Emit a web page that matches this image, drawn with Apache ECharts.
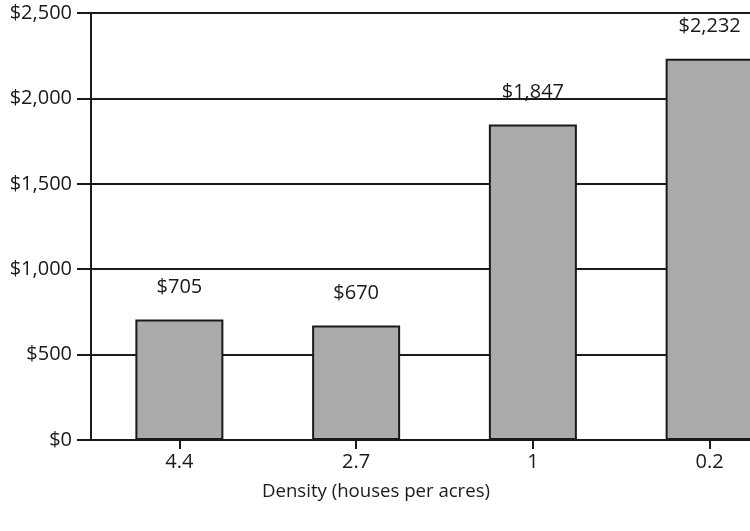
<!DOCTYPE html>
<html>
<head>
<meta charset="utf-8">
<script src="https://cdn.jsdelivr.net/npm/echarts@6/dist/echarts.min.js"></script>
<style>
  html, body { margin: 0; padding: 0; background: #fff; overflow: hidden; }
  /* the plot runs past the right edge of the window, so the canvas is wider than the view */
  #chart { width: 800px; height: 531px; }
</style>
</head>
<body>
<div id="chart"></div>
<script>
// Housing density categories and cost values
const densities = ['4.4', '2.7', '1', '0.2'];
const costs = [705, 670, 1847, 2232];
const yTicks = [0, 500, 1000, 1500, 2000, 2500];
const axisTitle = 'Density (houses per acres)';

const FONT = '"Open Sans", "Noto Sans", sans-serif';
const INK = '#1a1a1a';

const fmtMoney = v => '$' + Number(v).toLocaleString('en-US');

const chart = echarts.init(document.getElementById('chart'), null, { renderer: 'canvas' });

chart.setOption({
  backgroundColor: '#ffffff',
  animation: false,
  graphic: [{
    type: 'text',
    left: 262,
    top: 482,
    style: { text: axisTitle, fontFamily: FONT, fontSize: 18.6, fill: INK }
  }],
  grid: { left: 91, top: 13, height: 427, right: 2, containLabel: false },
  xAxis: {
    type: 'category',
    data: densities,
    axisLine: { show: true, lineStyle: { color: INK, width: 2 } },
    axisTick: { show: true, alignWithLabel: true, length: 9, lineStyle: { color: INK, width: 2 } },
    axisLabel: { margin: 12, fontFamily: FONT, fontSize: 20, color: INK },
    splitLine: { show: false }
  },
  yAxis: {
    type: 'value',
    min: yTicks[0],
    max: yTicks[yTicks.length - 1],
    interval: yTicks[1] - yTicks[0],
    axisLine: { show: true, lineStyle: { color: INK, width: 2 } },
    axisTick: { show: true, length: 14, lineStyle: { color: INK, width: 2 } },
    axisLabel: { margin: 19, fontFamily: FONT, fontSize: 20, color: INK, formatter: fmtMoney },
    splitLine: { show: true, lineStyle: { color: INK, width: 2 } }
  },
  series: [{
    type: 'bar',
    data: costs,
    barWidth: 88,
    itemStyle: { color: '#aaaaaa', borderColor: INK, borderWidth: 2 },
    label: {
      show: true,
      position: 'top',
      distance: 22,
      fontFamily: FONT,
      fontSize: 20,
      color: INK,
      formatter: p => fmtMoney(p.value)
    }
  }]
});
</script>
</body>
</html>
